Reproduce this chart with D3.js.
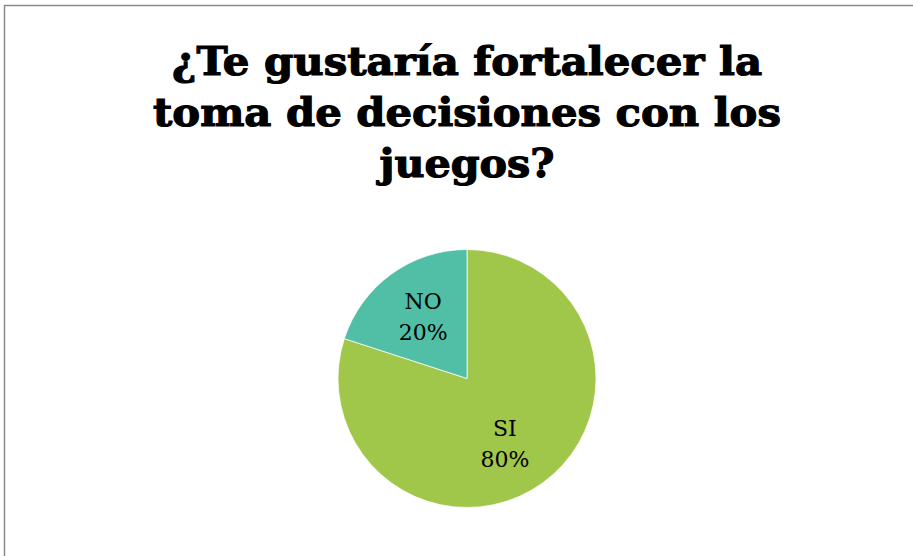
<!DOCTYPE html>
<html>
<head>
<meta charset="utf-8">
<script src="https://cdn.jsdelivr.net/npm/d3@7"></script>
<style>
  html, body { margin: 0; padding: 0; background: #ffffff; }
  svg { display: block; }
</style>
</head>
<body>
<svg id="chart" width="913" height="556"></svg>
<script>
const titleLines = ["¿Te gustaría fortalecer la", "toma de decisiones con los", "juegos?"];
const categories = ["SI", "NO"];
const values = [80, 20];
const percentLabels = ["80%", "20%"];
const colors = ["#A0C64A", "#50BFA5"];

const svg = d3.select("#chart");
const W = 913, H = 556;

svg.append("rect").attr("width", W).attr("height", H).attr("fill", "#ffffff");
// chart frame
svg.append("rect")
  .attr("x", 4.5).attr("y", 5.5)
  .attr("width", W + 20).attr("height", H + 20)
  .attr("fill", "none").attr("stroke", "#8a8a8a").attr("stroke-width", 1.5);

// title
const titleWidths = [590, 628, 175];
const titleBase = [75, 126, 177];
const cx = 467;
titleLines.forEach((t, i) => {
  svg.append("text")
    .attr("x", cx).attr("y", titleBase[i])
    .attr("text-anchor", "middle")
    .attr("font-family", "'DejaVu Serif', serif")
    .attr("font-weight", "bold")
    .attr("font-size", 40)
    .attr("fill", "#000")
    .attr("stroke", "#000")
    .attr("stroke-width", 1.2)
    .attr("textLength", titleWidths[i])
    .attr("lengthAdjust", "spacingAndGlyphs")
    .text(t);
});

// pie
const cy = 378.5, r = 129;
const pie = d3.pie().sort(null).value(d => d.v);
const data = categories.map((c, i) => ({ c, v: values[i], p: percentLabels[i], col: colors[i] }));
const arcs = pie(data);
const arc = d3.arc().innerRadius(0).outerRadius(r);
const labelArc = d3.arc().innerRadius(78).outerRadius(78);
const nudgeX = [-8, 2];

const g = svg.append("g").attr("transform", `translate(${cx},${cy})`);
g.selectAll("path").data(arcs).enter().append("path")
  .attr("d", arc)
  .attr("fill", d => d.data.col)
  .attr("stroke", "#ffffff")
  .attr("stroke-width", 0.75);

const lbl = g.selectAll("g.lbl").data(arcs).enter().append("g")
  .attr("class", "lbl")
  .attr("transform", (d, i) => { const [x, y] = labelArc.centroid(d); return `translate(${x + nudgeX[i]},${y + 1})`; });
lbl.append("text")
  .attr("text-anchor", "middle")
  .attr("y", -7)
  .attr("font-family", "'DejaVu Serif', serif")
  .attr("font-size", 22)
  .attr("fill", "#000")
  .text(d => d.data.c);
lbl.append("text")
  .attr("text-anchor", "middle")
  .attr("y", 24)
  .attr("font-family", "'DejaVu Serif', serif")
  .attr("font-size", 22)
  .attr("fill", "#000")
  .text(d => d.data.p);
</script>
</body>
</html>
